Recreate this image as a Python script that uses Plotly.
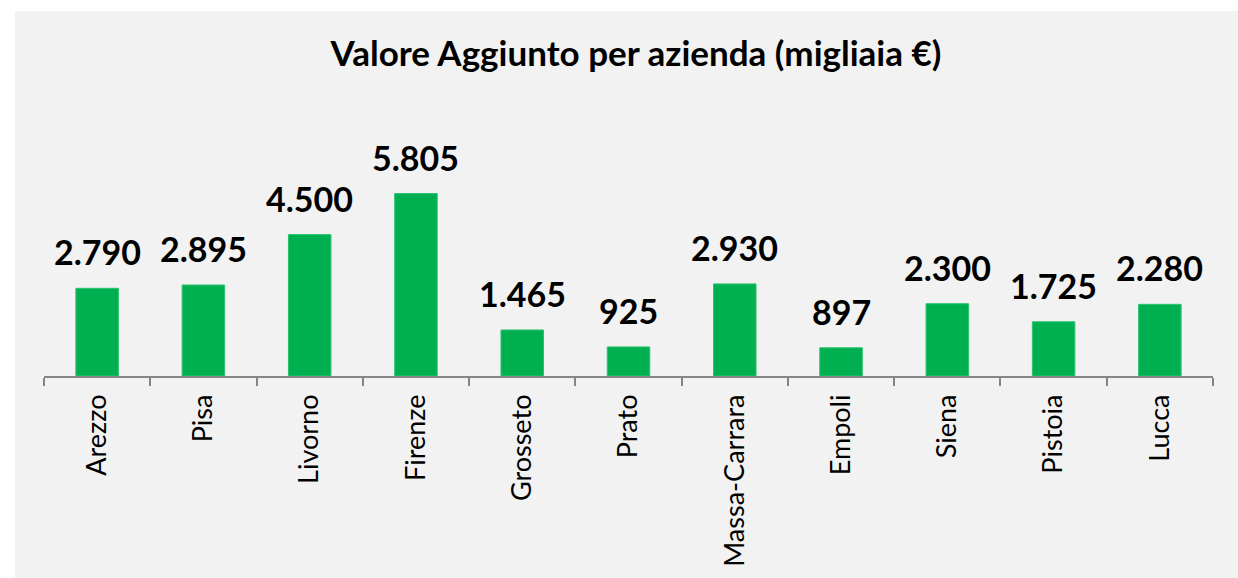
import plotly.graph_objects as go

# Province and value added per company (thousands of euro)
province = ["Arezzo", "Pisa", "Livorno", "Firenze", "Grosseto", "Prato",
            "Massa-Carrara", "Empoli", "Siena", "Pistoia", "Lucca"]
valore_aggiunto = [2790, 2895, 4500, 5805, 1465, 925, 2930, 897, 2300, 1725, 2280]

W, H = 1238, 578
L, R, T, B = 44, 25, 156, 202
pw, ph = W - L - R, H - T - B


def px_to_paper_x(px):
    return (px - L) / pw


def px_to_paper_y(py):
    return (H - B - py) / ph


fig = go.Figure()
fig.add_trace(go.Bar(
    x=province,
    y=valore_aggiunto,
    marker=dict(color="#00B050", line=dict(color="#2BC36E", width=1)),
    hoverinfo="x+y",
))

# value labels above each bar
for name, v in zip(province, valore_aggiunto):
    fig.add_annotation(
        x=name, y=v, xref="x", yref="y",
        text=f"{v:,}".replace(",", "."),
        showarrow=False, yanchor="bottom", yshift=14,
        font=dict(family="Lato", size=34, color="#000000", weight="bold"),
    )

# grey chart area
fig.add_shape(
    type="rect", xref="paper", yref="paper", layer="below",
    x0=px_to_paper_x(15), x1=px_to_paper_x(W + 2),
    y0=px_to_paper_y(H + 2), y1=px_to_paper_y(11),
    fillcolor="#F2F2F2", line=dict(width=0),
)

fig.update_layout(
    width=W, height=H,
    margin=dict(l=L, r=R, t=T, b=B),
    paper_bgcolor="#FFFFFF",
    plot_bgcolor="rgba(0,0,0,0)",
    bargap=0.6,
    showlegend=False,
    title=dict(
        text="Valore Aggiunto per azienda (migliaia €)",
        x=px_to_paper_x(636), xref="paper", xanchor="center",
        y=1 - 54 / H, yref="container", yanchor="middle",
        font=dict(family="Lato", size=35, color="#000000", weight="bold"),
    ),
    xaxis=dict(
        showline=True, linecolor="#868686", linewidth=1.5,
        ticks="outside", tickson="boundaries", ticklen=8,
        tickcolor="#868686", tickwidth=1.5,
        tickangle=-90, ticklabelstandoff=6,
        tickfont=dict(family="Lato", size=27, color="#000000"),
        showgrid=False,
    ),
    yaxis=dict(range=[0, 7000], visible=False, showgrid=False),
)

fig.write_html("out.html")
